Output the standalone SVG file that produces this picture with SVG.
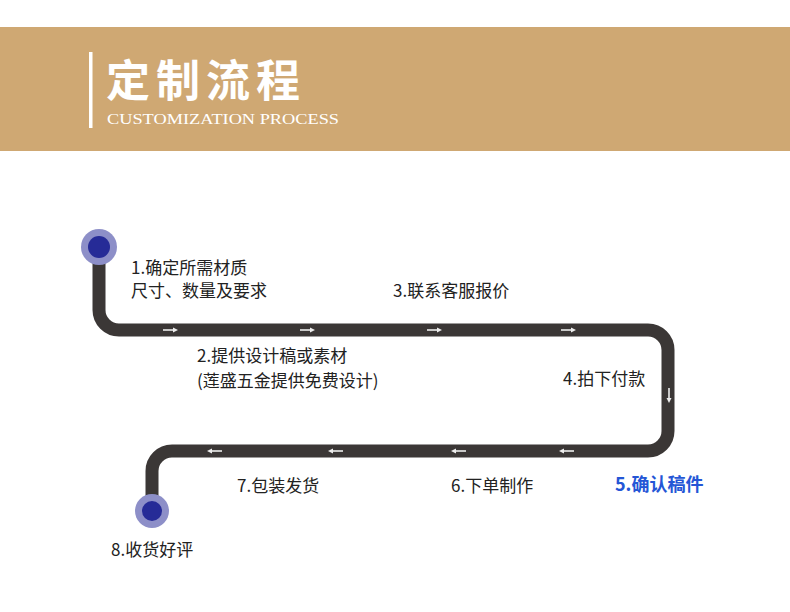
<svg xmlns="http://www.w3.org/2000/svg" width="790" height="612" viewBox="0 0 790 612">
<defs>
<style>
.lbl{font-family:"Noto Sans CJK SC","Noto Sans",sans-serif;font-size:17px;fill:#222;}
.road{fill:none;stroke:#3b3736;stroke-width:13;stroke-linejoin:round;}
.arr{stroke:#eeeeee;stroke-width:1.6;fill:none;}
.head{fill:#eeeeee;}
.halo{fill:#8d8fc8;}
.dot{fill:#262b97;}
</style>
<g id="arrowR"><line class="arr" x1="-7" y1="0" x2="4" y2="0"/><polygon class="head" points="3,-2.5 8,0 3,2.5"/></g>
</defs>
<rect x="0" y="0" width="790" height="612" fill="#ffffff"/>
<g id="header">
<rect x="0" y="27" width="790" height="124" fill="#cfa873"/>
<rect x="89" y="52" width="3.5" height="76" fill="#ffffff"/>
<text x="106" y="97" font-family="'Noto Sans CJK SC',sans-serif" font-weight="700" font-size="44" fill="#ffffff" textLength="194">定制流程</text>
<text x="107" y="124" font-family="'Liberation Serif',serif" font-size="15" fill="#ffffff" textLength="232" lengthAdjust="spacingAndGlyphs">CUSTOMIZATION PROCESS</text>
</g>
<g id="connectors">
<path class="road" d="M99,247 L99,310 A20,20 0 0 0 119,330 L648,330 A20,20 0 0 1 668,350 L668,431 A20,20 0 0 1 648,451 L172,451 A20,20 0 0 0 152,471 L152,512"/>
<use href="#arrowR" x="170" y="330"/>
<use href="#arrowR" x="307" y="330"/>
<use href="#arrowR" x="434" y="330"/>
<use href="#arrowR" x="568" y="330"/>
<use href="#arrowR" transform="translate(669,395) rotate(90)"/>
<use href="#arrowR" transform="translate(567,451) rotate(180)"/>
<use href="#arrowR" transform="translate(459,451) rotate(180)"/>
<use href="#arrowR" transform="translate(336,451) rotate(180)"/>
<use href="#arrowR" transform="translate(215,451) rotate(180)"/>
</g>
<g id="start">
<circle class="halo" cx="99" cy="247" r="18"/>
<circle class="dot" cx="99" cy="247" r="11"/>
</g>
<g id="end">
<circle class="halo" cx="152" cy="511" r="17"/>
<circle class="dot" cx="152" cy="511" r="10"/>
</g>
<g id="step1"><text class="lbl" x="131" y="274">1.确定所需材质</text><text class="lbl" x="131" y="297">尺寸、数量及要求</text></g>
<g id="step2"><text class="lbl" x="197" y="362">2.提供设计稿或素材</text><text class="lbl" x="197" y="387">(莲盛五金提供免费设计)</text></g>
<g id="step3"><text class="lbl" x="393" y="297">3.联系客服报价</text></g>
<g id="step4"><text class="lbl" x="563" y="385">4.拍下付款</text></g>
<g id="step5"><text x="615" y="491" font-family="'Noto Sans CJK SC','Noto Sans',sans-serif" font-size="18" font-weight="700" fill="#2456d6">5.确认稿件</text></g>
<g id="step6"><text class="lbl" x="451" y="492">6.下单制作</text></g>
<g id="step7"><text class="lbl" x="237" y="492">7.包装发货</text></g>
<g id="step8"><text class="lbl" x="111" y="556">8.收货好评</text></g>
</svg>
